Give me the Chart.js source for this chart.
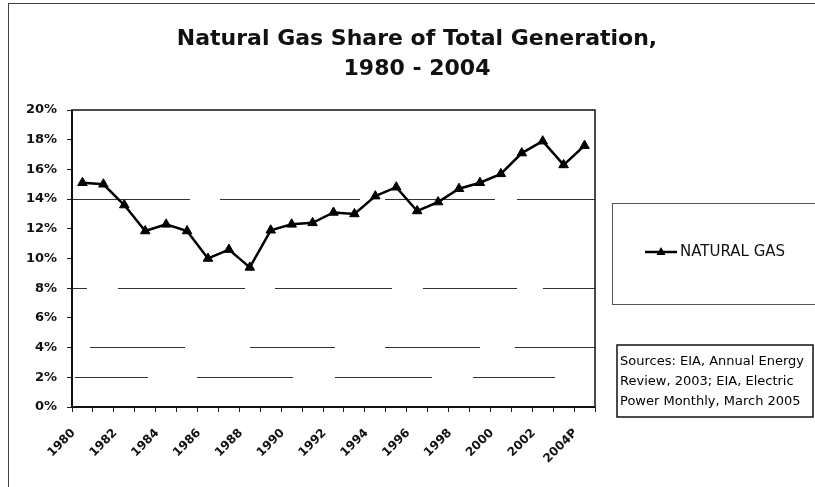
<!DOCTYPE html>
<html>
<head>
<meta charset="utf-8">
<script src="https://cdn.jsdelivr.net/npm/chart.js@4.4.1/dist/chart.umd.min.js"></script>
<style>
  html, body { margin: 0; padding: 0; background: #fff; }
  #wrap { width: 815px; height: 487px; }
</style>
</head>
<body>
<div id="wrap"><canvas id="chart" width="815" height="487"></canvas></div>
<script>
// -------- Datos --------
const YEARS = [
  "1980", "1981", "1982", "1983", "1984", "1985", "1986", "1987", "1988",
  "1989", "1990", "1991", "1992", "1993", "1994", "1995", "1996", "1997",
  "1998", "1999", "2000", "2001", "2002", "2003", "2004P"
];
const GAS_SHARE = [
  15.1, 15.0, 13.6, 11.85, 12.3, 11.85, 10.0, 10.6, 9.4,
  11.9, 12.3, 12.4, 13.1, 13.0, 14.2, 14.8, 13.2, 13.8,
  14.7, 15.1, 15.7, 17.1, 17.9, 16.3, 17.6
];
const Y_TICKS = [0, 2, 4, 6, 8, 10, 12, 14, 16, 18, 20];
const SERIES_NAME = "NATURAL GAS";
const TITLE_LINES = ["Natural Gas Share of Total Generation,", "1980 - 2004"];
const SOURCE_LINES = [
  "Sources: EIA, Annual Energy",
  "Review, 2003; EIA, Electric",
  "Power Monthly, March 2005"
];

// Lineas de cuadricula que se ven en el original (la copia esta cortada a tramos)
const GRID_DASH = {
  2: [0, 3, 73, 49, 96, 42, 97, 41, 82, 100],
  4: [0, 18, 95, 65, 85, 50, 95, 35, 80, 100],
  8: [15, 31, 127, 30, 117, 31, 94, 26, 200],
  14: [118, 30, 140, 25, 110, 22, 200]
};

const FONT = "'DejaVu Sans', 'Liberation Sans', Arial, sans-serif";

// -------- Decoracion: marco, titulo, leyenda, fuentes --------
const decor = {
  id: "decor",
  beforeDraw(chart) {
    const ctx = chart.ctx;
    ctx.save();
    ctx.fillStyle = "#fff";
    ctx.fillRect(0, 0, chart.width, chart.height);
    ctx.strokeStyle = "#444";
    ctx.lineWidth = 1;
    ctx.strokeRect(8.5, 3.5, chart.width + 20, chart.height + 20);
    ctx.restore();
  },
  beforeDatasetsDraw(chart) {
    const { ctx, chartArea: a } = chart;
    ctx.save();
    ctx.strokeStyle = "#111";
    ctx.lineWidth = 1.5;
    ctx.strokeRect(a.left, a.top, a.right - a.left, a.bottom - a.top);
    ctx.lineWidth = 2;
    ctx.beginPath();
    ctx.moveTo(a.left, a.top);
    ctx.lineTo(a.left, a.bottom);
    ctx.lineTo(a.right, a.bottom);
    ctx.stroke();
    ctx.restore();
  },
  afterDraw(chart) {
    const ctx = chart.ctx;
    const ds = chart.data.datasets[0];
    ctx.save();

    // titulo
    ctx.fillStyle = "#111";
    ctx.textAlign = "center";
    ctx.textBaseline = "alphabetic";
    ctx.font = "bold 22px " + FONT;
    TITLE_LINES.forEach((t, i) => ctx.fillText(t, 417, 45 + i * 30));

    // leyenda
    ctx.strokeStyle = "#555";
    ctx.lineWidth = 1;
    ctx.strokeRect(612.5, 203.5, 300, 101);
    ctx.strokeStyle = ds.borderColor;
    ctx.lineWidth = 2.5;
    ctx.beginPath();
    ctx.moveTo(645, 252);
    ctx.lineTo(677, 252);
    ctx.stroke();
    ctx.fillStyle = ds.backgroundColor;
    ctx.beginPath();
    ctx.moveTo(661, 247);
    ctx.lineTo(665.5, 255);
    ctx.lineTo(656.5, 255);
    ctx.closePath();
    ctx.fill();
    ctx.fillStyle = "#111";
    ctx.textAlign = "left";
    ctx.textBaseline = "middle";
    ctx.font = "15px " + FONT;
    ctx.fillText(ds.label, 680, 252);

    // fuentes
    ctx.strokeStyle = "#111";
    ctx.lineWidth = 1.5;
    ctx.strokeRect(617, 345, 196, 72);
    ctx.font = "13px " + FONT;
    ctx.fillStyle = "#000";
    SOURCE_LINES.forEach((t, i) => ctx.fillText(t, 620, 362 + i * 20));

    ctx.restore();
  }
};

// -------- Grafico --------
new Chart(document.getElementById("chart"), {
  type: "line",
  data: {
    labels: YEARS,
    datasets: [{
      label: SERIES_NAME,
      data: GAS_SHARE,
      borderColor: "#000",
      backgroundColor: "#000",
      borderWidth: 2.5,
      pointStyle: "triangle",
      pointRadius: 5.5,
      pointBorderWidth: 1,
      tension: 0,
      fill: false
    }]
  },
  options: {
    responsive: false,
    animation: false,
    layout: { padding: { top: 110, right: 220, left: 0, bottom: 0 } },
    plugins: {
      legend: { display: false },
      title: { display: false },
      tooltip: { enabled: false }
    },
    scales: {
      x: {
        offset: true,
        grid: {
          offset: true,
          drawOnChartArea: false,
          drawTicks: true,
          tickLength: 5,
          tickColor: "#222",
          tickWidth: 1
        },
        border: { display: false },
        ticks: {
          autoSkip: false,
          maxRotation: 45,
          minRotation: 45,
          padding: 14,
          labelOffset: -9,
          color: "#111",
          font: { family: FONT, weight: "bold", size: 12 },
          callback: function (v, i) { return i % 2 === 0 ? this.getLabelForValue(v) : ""; }
        },
        afterFit(scale) { scale.height = 80; }
      },
      y: {
        min: Y_TICKS[0],
        max: Y_TICKS[Y_TICKS.length - 1],
        ticks: {
          stepSize: Y_TICKS[1] - Y_TICKS[0],
          padding: 10,
          color: "#111",
          font: { family: FONT, weight: "bold", size: 13 },
          callback: v => v + "%"
        },
        grid: {
          color: c => (c.tick && GRID_DASH[c.tick.value]) ? "#333" : "transparent",
          lineWidth: 1,
          tickColor: "#222",
          tickLength: 5
        },
        border: {
          display: false,
          dash: c => (c.tick && GRID_DASH[c.tick.value]) || []
        },
        afterFit(scale) { scale.width = 72; }
      }
    }
  },
  plugins: [decor]
});
</script>
</body>
</html>
